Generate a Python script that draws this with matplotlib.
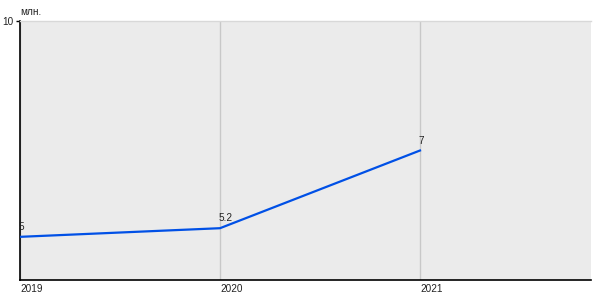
import matplotlib
matplotlib.use("Agg")
import matplotlib.pyplot as plt

plt.rcParams["font.family"] = ["Liberation Sans", "DejaVu Sans"]

years = [2019, 2020, 2021]
values = [5, 5.2, 7]
value_labels = ["5", "5.2", "7"]
unit_label = "млн."

fig = plt.figure(figsize=(6, 3), dpi=100)
ax = fig.add_axes([20 / 600, 20 / 300, 571 / 600, 259 / 300])
ax.set_facecolor("#EBEBEB")

ax.set_xlim(2019, 2021.855)
ax.set_ylim(4, 10)

for yr in years:
    ax.axvline(yr, color="#C8C8C8", linewidth=1, zorder=1)

ax.plot(years, values, color="#0050E6", linewidth=1.6, zorder=3)

for x, y, lab in zip(years, values, value_labels):
    ax.annotate(lab, (x, y), xytext=(-1, 3.5), textcoords="offset points",
                ha="left", va="bottom", fontsize=7.2, color="#222222")

ax.set_xticks(years)
ax.set_xticklabels([str(y) for y in years], ha="left", fontsize=7.2, color="#222222")
ax.tick_params(axis="x", length=0, pad=3)

ax.set_yticks([10])
ax.set_yticklabels(["10"], fontsize=7.2, color="#222222")
ax.tick_params(axis="y", length=3, width=1, pad=1.5)

ax.spines["left"].set_color("black")
ax.spines["bottom"].set_color("black")
ax.spines["left"].set_linewidth(1.2)
ax.spines["bottom"].set_linewidth(1.2)
ax.spines["right"].set_visible(False)
ax.spines["top"].set_color("#D8D8D8")
ax.spines["top"].set_linewidth(1)

fig.text(20 / 600, 1 - 12 / 300, unit_label, fontsize=7.2, ha="left", va="center", color="#222222")

fig.savefig("out.png", dpi=100)
